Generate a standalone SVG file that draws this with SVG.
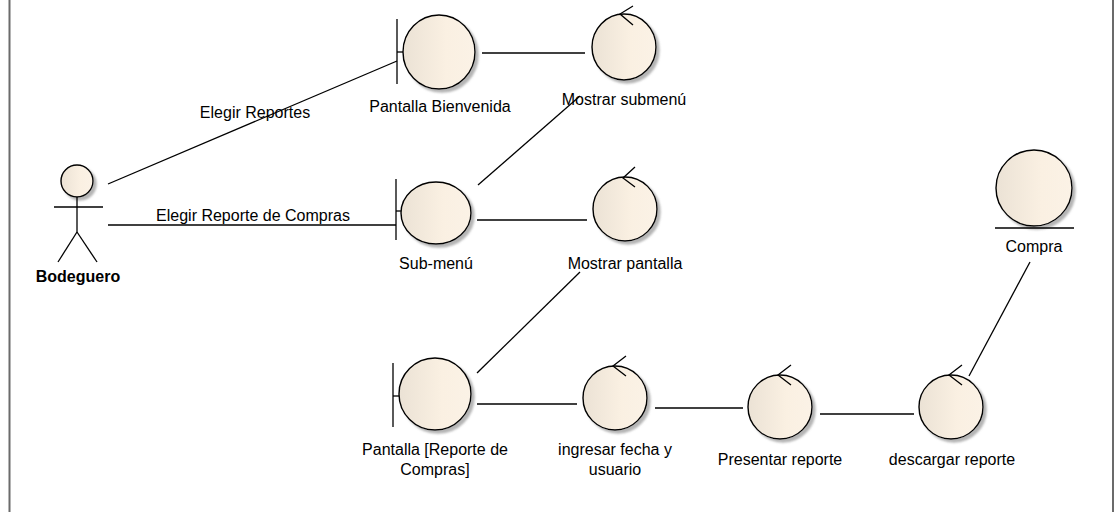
<svg xmlns="http://www.w3.org/2000/svg" width="1114" height="512" viewBox="0 0 1114 512">
<defs>
<linearGradient id="fillg" x1="0" y1="0" x2="1" y2="0">
<stop offset="0" stop-color="#EBE2D5"/>
<stop offset="0.6" stop-color="#FAF0E2"/>
<stop offset="1" stop-color="#FBF2E6"/>
</linearGradient>
<filter id="sh" x="-20%" y="-20%" width="150%" height="150%">
<feDropShadow dx="3" dy="3" stdDeviation="1.2" flood-color="#777" flood-opacity="0.55"/>
</filter>
<style>
.body{fill:url(#fillg);stroke:#000;stroke-width:1.4;filter:url(#sh)}
.ln{stroke:#000;stroke-width:1.3;fill:none}
.t{font-family:"Liberation Sans",Arial,sans-serif;font-size:16px;fill:#000;text-anchor:middle}
.b{font-weight:bold}
.frame{stroke:#6b6b6b;stroke-width:2}
</style>
</defs>
<rect width="1114" height="512" fill="#fff"/>
<line class="frame" x1="9.5" y1="0" x2="9.5" y2="512"/>
<line class="frame" x1="1113" y1="0" x2="1113" y2="512"/>

<g id="connectors">
<line class="ln" x1="108" y1="184" x2="397" y2="61"/>
<line class="ln" x1="108" y1="225" x2="396" y2="225"/>
<line class="ln" x1="482" y1="53" x2="585" y2="53"/>
<line class="ln" x1="478" y1="185" x2="580" y2="96"/>
<line class="ln" x1="477" y1="220" x2="587" y2="220"/>
<line class="ln" x1="477" y1="373" x2="580" y2="272"/>
<line class="ln" x1="477" y1="404" x2="577" y2="404"/>
<line class="ln" x1="655" y1="408" x2="743" y2="408"/>
<line class="ln" x1="820" y1="414" x2="914" y2="414"/>
<line class="ln" x1="969" y1="376" x2="1030" y2="262"/>
<text class="t" x="255" y="118">Elegir Reportes</text>
<text class="t" x="253" y="221">Elegir Reporte de Compras</text>
</g>

<g id="bodeguero">
<circle class="body" cx="77" cy="181" r="16"/>
<line class="ln" x1="54" y1="207" x2="103" y2="207"/>
<line class="ln" x1="77" y1="197" x2="77" y2="232"/>
<line class="ln" x1="77" y1="232" x2="58" y2="262"/>
<line class="ln" x1="77" y1="232" x2="97" y2="262"/>
<text class="t b" x="78" y="282">Bodeguero</text>
</g>

<g id="pantalla-bienvenida">
<ellipse class="body" cx="439" cy="52" rx="36" ry="37"/>
<line class="ln" x1="397" y1="19" x2="397" y2="84"/>
<line class="ln" x1="397" y1="52" x2="403" y2="52"/>
<text class="t" x="440" y="112">Pantalla Bienvenida</text>
</g>

<g id="mostrar-submenu">
<ellipse class="body" cx="624" cy="47" rx="32" ry="33"/>
<polyline class="ln" points="633,6 620,14 633,25"/>
<text class="t" x="624" y="105">Mostrar submenú</text>
</g>

<g id="sub-menu">
<ellipse class="body" cx="436" cy="213" rx="35" ry="31"/>
<line class="ln" x1="396" y1="179" x2="396" y2="240"/>
<line class="ln" x1="396" y1="211" x2="401" y2="211"/>
<text class="t" x="436" y="269">Sub-menú</text>
</g>

<g id="mostrar-pantalla">
<ellipse class="body" cx="625" cy="209" rx="32" ry="32"/>
<polyline class="ln" points="635,167 623,178 635,187"/>
<text class="t" x="625" y="269">Mostrar pantalla</text>
</g>

<g id="compra">
<circle class="body" cx="1034" cy="188" r="38"/>
<line class="ln" x1="995" y1="228" x2="1074" y2="228"/>
<text class="t" x="1034" y="252">Compra</text>
</g>

<g id="pantalla-reporte">
<ellipse class="body" cx="435" cy="394" rx="36" ry="36"/>
<line class="ln" x1="393" y1="363" x2="393" y2="427"/>
<line class="ln" x1="393" y1="396" x2="399" y2="396"/>
<text class="t" x="435" y="455">Pantalla [Reporte de</text>
<text class="t" x="435" y="475">Compras]</text>
</g>

<g id="ingresar">
<ellipse class="body" cx="615" cy="398" rx="32" ry="32"/>
<polyline class="ln" points="626,356 613,366 626,376"/>
<text class="t" x="615" y="455">ingresar fecha y</text>
<text class="t" x="615" y="475">usuario</text>
</g>

<g id="presentar">
<ellipse class="body" cx="780" cy="407" rx="32" ry="32"/>
<polyline class="ln" points="791,365 778,375 791,385"/>
<text class="t" x="780" y="465">Presentar reporte</text>
</g>

<g id="descargar">
<ellipse class="body" cx="951" cy="407" rx="32" ry="32"/>
<polyline class="ln" points="962,365 949,375 962,385"/>
<text class="t" x="952" y="465">descargar reporte</text>
</g>
</svg>
